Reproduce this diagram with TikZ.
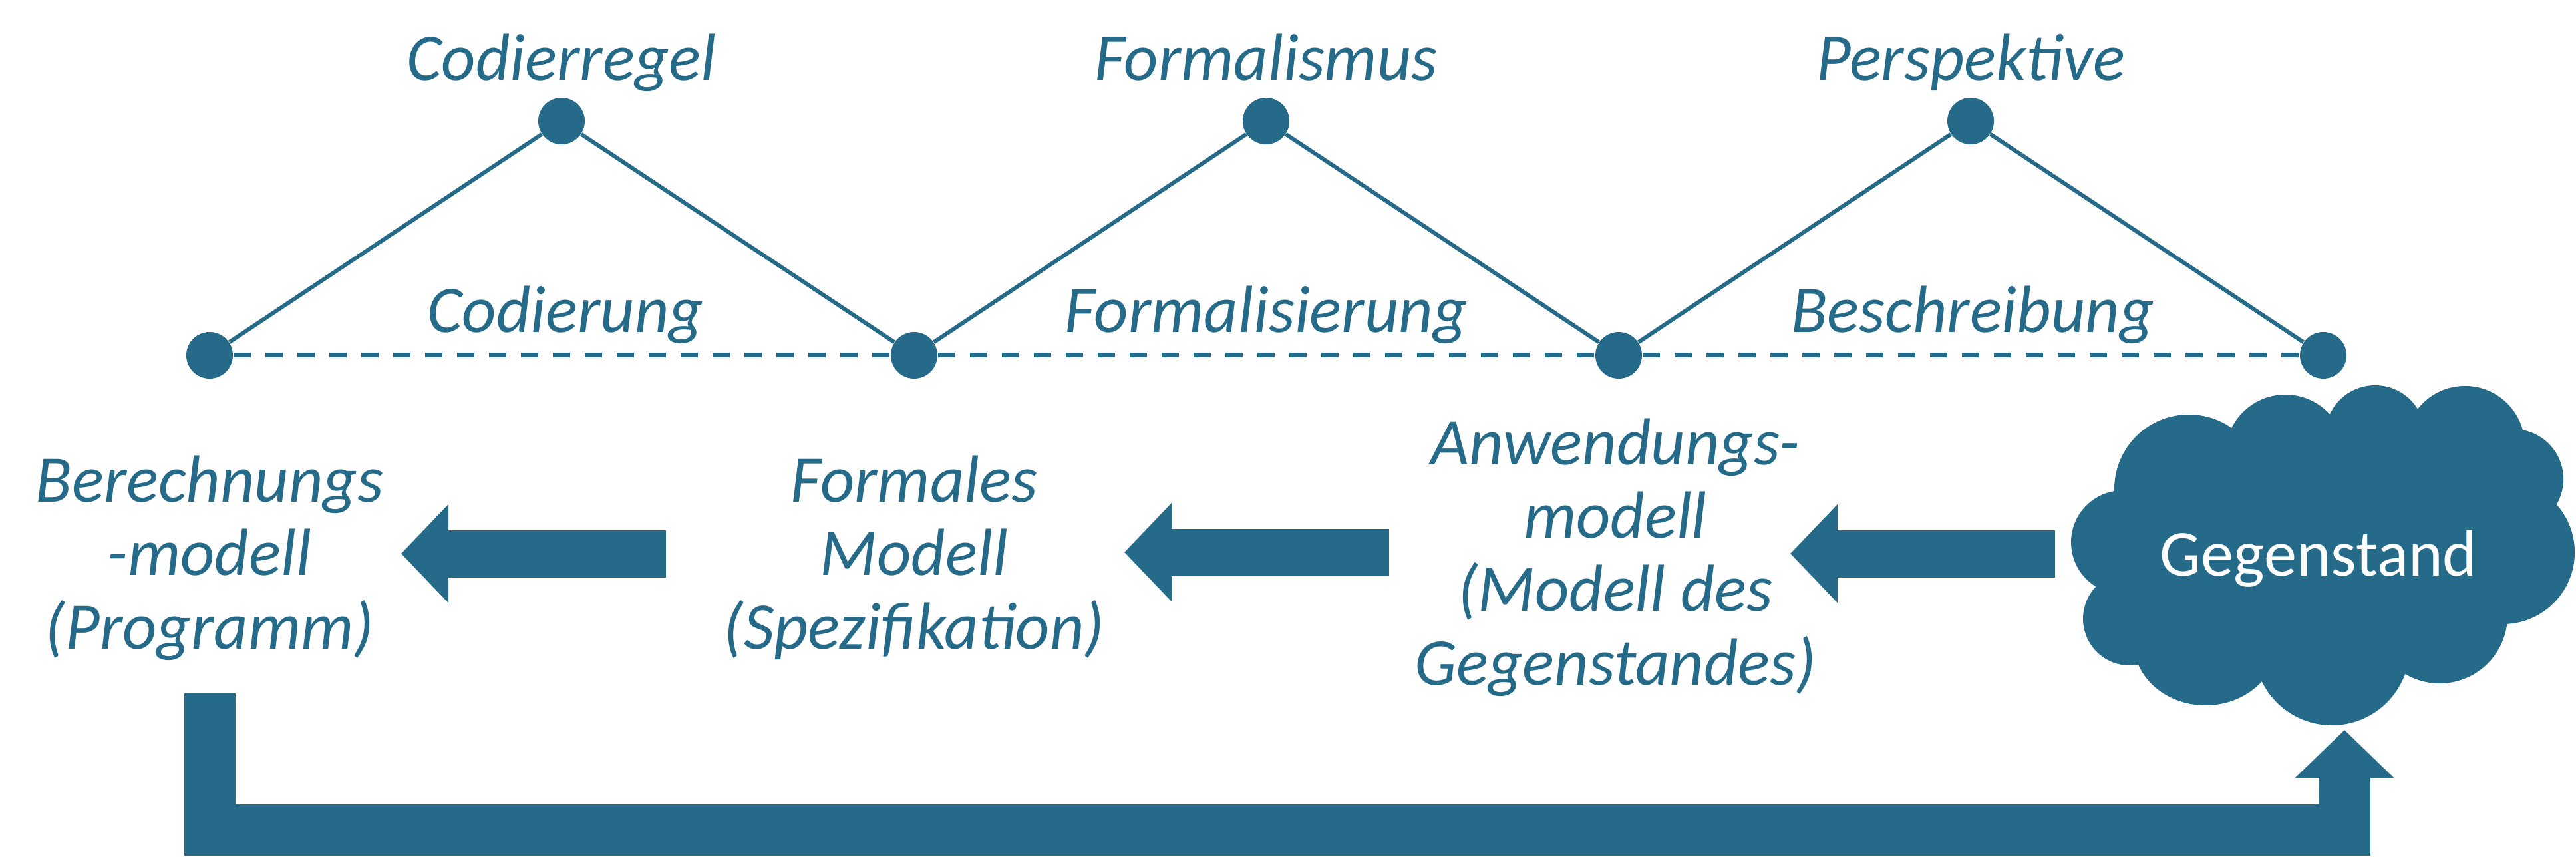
\documentclass[tikz,border=0pt]{standalone}
\usepackage{fontspec}
\setmainfont{Carlito}
\usetikzlibrary{arrows.meta}
\definecolor{petrol}{RGB}{38,106,137}
\tikzset{
  dot/.style={circle,fill=petrol,inner sep=0pt,minimum size=0.70cm},
  lbl/.style={text=petrol,font=\fontsize{28.5}{31.3}\selectfont\itshape,inner sep=0pt},
  fatarrow/.style={draw=petrol,line width=0.71cm,-{Triangle[length=0.71cm,width=1.44cm]}},
}
\begin{document}
\begin{tikzpicture}
\useasboundingbox (0,0) rectangle (38.72,12.87);
% Punkte
\node[dot] (b1) at (3.15,7.53) {};
\node[dot] (b2) at (13.74,7.53) {};
\node[dot] (b3) at (24.33,7.53) {};
\node[dot] (b4) at (34.92,7.53) {};
\node[dot] (t1) at (8.44,11.05) {};
\node[dot] (t2) at (19.03,11.05) {};
\node[dot] (t3) at (29.62,11.05) {};
\draw [petrol,line width=0.06cm] (b1) -- (t1) -- (b2) -- (t2) -- (b3) -- (t3) -- (b4);
\draw [petrol,line width=0.07cm,dash pattern=on 0.26cm off 0.22cm] (b1) -- (b2) -- (b3) -- (b4);

\node[lbl,anchor=base] (codierregel) at (8.44,11.66) {Codierregel};
\node[lbl,anchor=base] (formalismus) at (19.03,11.66) {Formalismus};
\node[lbl,anchor=base] (perspektive) at (29.62,11.66) {Perspektive};
\node[lbl,anchor=base] (codierung) at (8.50,7.87) {Codierung};
\node[lbl,anchor=base] (formalisierung) at (19.03,7.87) {Formalisierung};
\node[lbl,anchor=base] (beschreibung) at (29.65,7.87) {Beschreibung};

% Modelle
\node[lbl,align=center,anchor=base] (berechnung) at (3.15,3.12) {Berechnungs\\-modell\\(Programm)};
\node[lbl,align=center,anchor=base] (formal) at (13.74,3.12) {Formales\\Modell\\(Spezifikation)};
\node[lbl,align=center,anchor=base] (anwendung) at (24.28,2.58) {Anwendungs-\\modell\\(Modell des\\Gegenstandes)};

% Gegenstand (Wolke)
\fill [petrol] (32.90,5.52) circle (1.12) (34.35,6.04) circle (0.90)
  (35.70,6.33) circle (0.75) (37.05,6.17) circle (0.90)
  (37.78,5.67) circle (0.75) (37.62,4.57) circle (1.08)
  (36.67,3.62) circle (1.02) (35.05,3.14) circle (1.17)
  (33.15,3.22) ellipse (1.08 and 0.95) (32.01,3.57) circle (0.70)
  (31.91,4.72) circle (0.78) (34.91,4.60) ellipse (2.60 and 1.60);
\node[text=white,font=\fontsize{28}{31}\selectfont,anchor=base,inner sep=0pt] (gegenstand) at (34.85,4.22) {Gegenstand};

% Pfeile
\coordinate (a1tail) at (10.01,4.55);
\coordinate (a1tip) at (6.03,4.55);
\coordinate (a2tail) at (20.88,4.57);
\coordinate (a2tip) at (16.90,4.57);
\coordinate (a3tail) at (30.89,4.55);
\coordinate (a3tip) at (26.91,4.55);
\draw [fatarrow] (a1tail) -- (a1tip);
\draw [fatarrow] (a2tail) -- (a2tip);
\draw [fatarrow] (a3tail) -- (a3tip);

\coordinate (fbstart) at (3.15,2.45);
\coordinate (fbbend) at (35.24,0.395);
\coordinate (fbtip) at (35.24,1.90);
\draw [petrol,line width=0.77cm,-{Triangle[length=0.72cm,width=1.44cm]}] (fbstart) |- (fbbend) -- (fbtip);

\end{tikzpicture}
\end{document}
